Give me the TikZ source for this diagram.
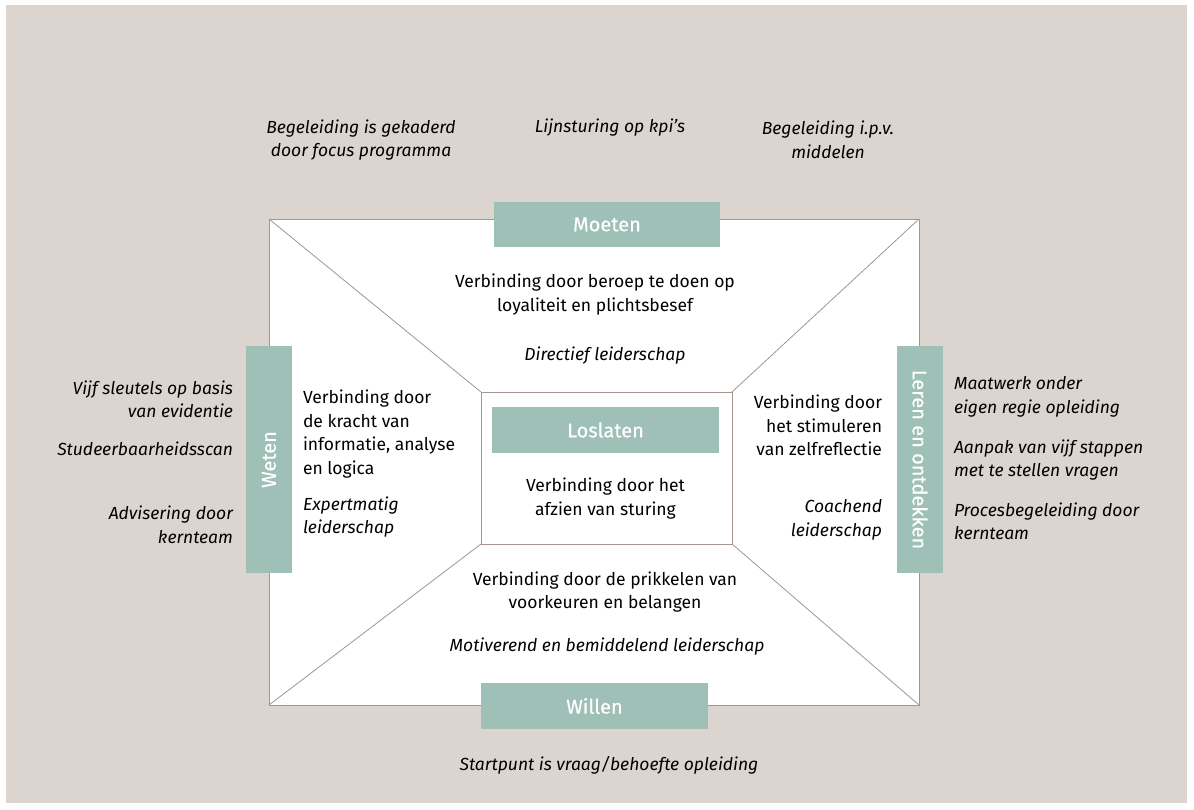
\documentclass[tikz,border=0pt]{standalone}
\usepackage{fontspec}
\setmainfont{Fira Sans}
\newfontfamily\barfont[FakeBold=0.3]{Fira Sans}
\definecolor{panelbg}{HTML}{DCD4CF}
\definecolor{sage}{HTML}{9FC0B7}
\definecolor{edgegrey}{HTML}{A3968F}
\begin{document}
\begin{tikzpicture}[x=1pt,y=-1pt,
  txt/.style={font=\fontsize{17.5}{23.5}\selectfont, text=black, inner sep=0pt, outer sep=0pt, align=center},
  note/.style={txt, font=\fontsize{17.5}{23.5}\selectfont\itshape},
  tag/.style={fill=sage, text=white, inner sep=0pt, outer sep=0pt, font=\barfont\fontsize{20}{22}\selectfont},
  frame/.style={draw=edgegrey, line width=1pt, fill=white, inner sep=0pt, outer sep=0pt, anchor=north west},
  diag/.style={draw=edgegrey, line width=0.8pt}]
\useasboundingbox (0,0) rectangle (1194,809);
\fill[panelbg] (6,5) rectangle (1187,803);

% outer and inner frames with connecting diagonals
\node[frame, minimum width=650, minimum height=486] (outer) at (269,219) {};
\node[frame, minimum width=251, minimum height=152] (inner) at (481,392) {};
\draw[diag] (outer.north west) -- (inner.north west);
\draw[diag] (outer.north east) -- (inner.north east);
\draw[diag] (outer.south west) -- (inner.south west);
\draw[diag] (outer.south east) -- (inner.south east);

% labelled bars
\node[tag, minimum width=226, minimum height=45] (moeten) at (607,224.5) {Moeten};
\node[tag, minimum width=227, minimum height=46] (loslaten) at (605.5,430) {Loslaten};
\node[tag, minimum width=227, minimum height=46] (willen) at (594.5,706) {Willen};
\node[tag, rotate=90, minimum width=227, minimum height=46] (weten) at (269,459.5) {Weten};
\node[tag, rotate=-90, minimum width=227, minimum height=46] (leren) at (920,459.5) {Leren en ontdekken};

% top notes
\node[note] (topA) at (361,140) {Begeleiding is gekaderd\\door focus programma};
\node[note] (topB) at (610,128) {Lijnsturing op kpi’s};
\node[note] (topC) at (828,140) {Begeleiding i.p.v.\\middelen};

% upper segment
\node[txt] (moetenT) at (595,294.5) {Verbinding door beroep te doen op\\loyaliteit en plichtsbesef};
\node[note] (moetenS) at (605,356) {Directief leiderschap};

% left segment
\node[txt, anchor=west, align=left] (wetenT) at (303,434) {Verbinding door\\de kracht van\\informatie, analyse\\en logica};
\node[note, anchor=west, align=left] (wetenS) at (303,517) {Expertmatig\\leiderschap};

% right segment
\node[txt, anchor=east, align=right] (lerenT) at (882,425.5) {Verbinding door\\het stimuleren\\van zelfreflectie};
\node[note, anchor=east, align=right] (lerenS) at (882,520) {Coachend\\leiderschap};

% centre
\node[txt] (losT) at (605.5,498.5) {Verbinding door het\\afzien van sturing};

% lower segment
\node[txt] (willenT) at (605,592) {Verbinding door de prikkelen van\\voorkeuren en belangen};
\node[note] (willenS) at (607,647) {Motiverend en bemiddelend leiderschap};
\node[note] (bottom) at (609,765) {Startpunt is vraag/behoefte opleiding};

% left notes
\node[note, anchor=east, align=right] (leftA) at (233,399.5) {Vijf sleutels op basis\\van evidentie};
\node[note, anchor=east, align=right] (leftB) at (233,449) {Studeerbaarheidsscan};
\node[note, anchor=east, align=right] (leftC) at (233,525) {Advisering door\\kernteam};

% right notes
\node[note, anchor=west, align=left] (rightA) at (954,397) {Maatwerk onder\\eigen regie opleiding};
\node[note, anchor=west, align=left] (rightB) at (954,460) {Aanpak van vijf stappen\\met te stellen vragen};
\node[note, anchor=west, align=left] (rightC) at (954,521.5) {Procesbegeleiding door\\kernteam};
\end{tikzpicture}
\end{document}
